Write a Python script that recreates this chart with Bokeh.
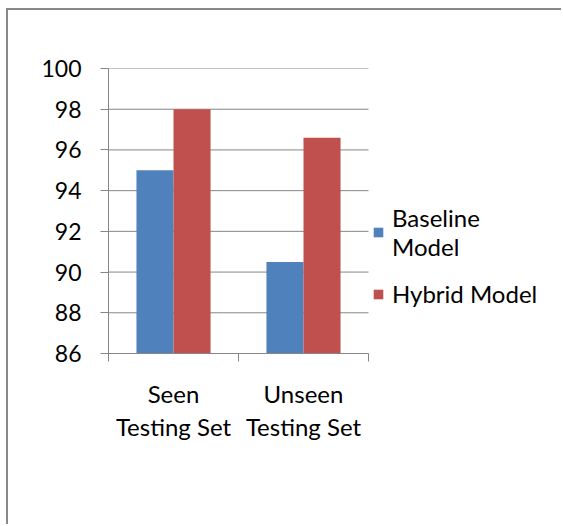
from bokeh.plotting import figure
from bokeh.models import (ColumnDataSource, Range1d, LinearAxis,
                          FixedTicker, Legend, LegendItem, CustomJSTickFormatter)
from bokeh.transform import dodge
from bokeh.embed import file_html
from bokeh.resources import INLINE

categories = ["Seen\nTesting Set", "Unseen\nTesting Set"]
baseline = [95.0, 90.5]
hybrid = [98.0, 96.6]
series_names = ["Baseline\nModel", "Hybrid Model"]
y_ticks = [86, 88, 90, 92, 94, 96, 98, 100]

FONT = "Lato"
FS = "24px"
GRAY = "#868686"
BLUE = "#4F81BD"
RED = "#C0504D"

n = len(categories)
centers = [i + 0.5 for i in range(n)]
src = ColumnDataSource(dict(x=centers, cat=categories, baseline=baseline, hybrid=hybrid))

p = figure(width=555, height=516, output_backend="svg", toolbar_location=None,
           x_range=Range1d(0, 3.4), y_range=Range1d(86, 100),
           x_axis_type=None, min_border_left=100, min_border_right=13,
           min_border_top=58, min_border_bottom=173)
p.styles = {"border-left": "2px solid #888888", "border-top": "2px solid #888888",
            "margin-left": "6px", "margin-top": "8px"}
p.outline_line_color = None
p.background_fill_color = "white"
p.xgrid.grid_line_color = None
p.ygrid.grid_line_color = None

# horizontal gridlines limited to the category area
p.segment(x0=[0] * len(y_ticks), x1=[n] * len(y_ticks), y0=y_ticks, y1=y_ticks,
          line_color=GRAY, line_width=1, level="underlay")

bw = 0.285
r1 = p.vbar(x=dodge("x", -bw / 2), top="baseline", bottom=86, width=bw,
            source=src, fill_color=BLUE, line_color=None)
r2 = p.vbar(x=dodge("x", bw / 2), top="hybrid", bottom=86, width=bw,
            source=src, fill_color=RED, line_color=None)

# y axis
ya = p.yaxis[0]
ya.ticker = FixedTicker(ticks=y_ticks)
ya.axis_line_color = GRAY
ya.major_tick_line_color = GRAY
ya.major_tick_out = 8
ya.major_tick_in = 0
ya.minor_tick_line_color = None
ya.major_label_text_font = FONT
ya.major_label_text_font_size = "23px"
ya.major_label_text_color = "black"
ya.major_label_standoff = 19

# x axis: boundary ticks
xb = LinearAxis(ticker=FixedTicker(ticks=list(range(n + 1))), bounds=(0, n))
xb.axis_line_color = GRAY
xb.major_tick_line_color = GRAY
xb.major_tick_out = 8
xb.major_tick_in = 0
xb.minor_tick_line_color = None
xb.formatter = CustomJSTickFormatter(code="return ''")
xb.major_label_text_font_size = "1px"
xb.major_label_standoff = 0
p.add_layout(xb, "below")

# x axis: category labels
xc = LinearAxis(ticker=FixedTicker(ticks=centers))
xc.major_label_overrides = {c: lab for c, lab in zip(centers, categories)}
xc.axis_line_color = None
xc.major_tick_line_color = None
xc.minor_tick_line_color = None
xc.major_label_text_font = FONT
xc.major_label_text_font_size = FS
xc.major_label_text_line_height = 1.15
xc.major_label_text_color = "black"
xc.major_label_standoff = 11
p.add_layout(xc, "below")

legend = Legend(items=[LegendItem(label=series_names[0], renderers=[r1]),
                       LegendItem(label=series_names[1], renderers=[r2])],
                location=(264, 45), border_line_color=None, background_fill_alpha=0,
                label_text_font=FONT, label_text_font_size=FS, label_text_color="black",
                label_text_line_height=1.15,
                glyph_width=12, glyph_height=12, label_standoff=8, spacing=18,
                padding=0, margin=0)
p.add_layout(legend, "center")

open("out.html", "w").write(file_html(p, INLINE))
